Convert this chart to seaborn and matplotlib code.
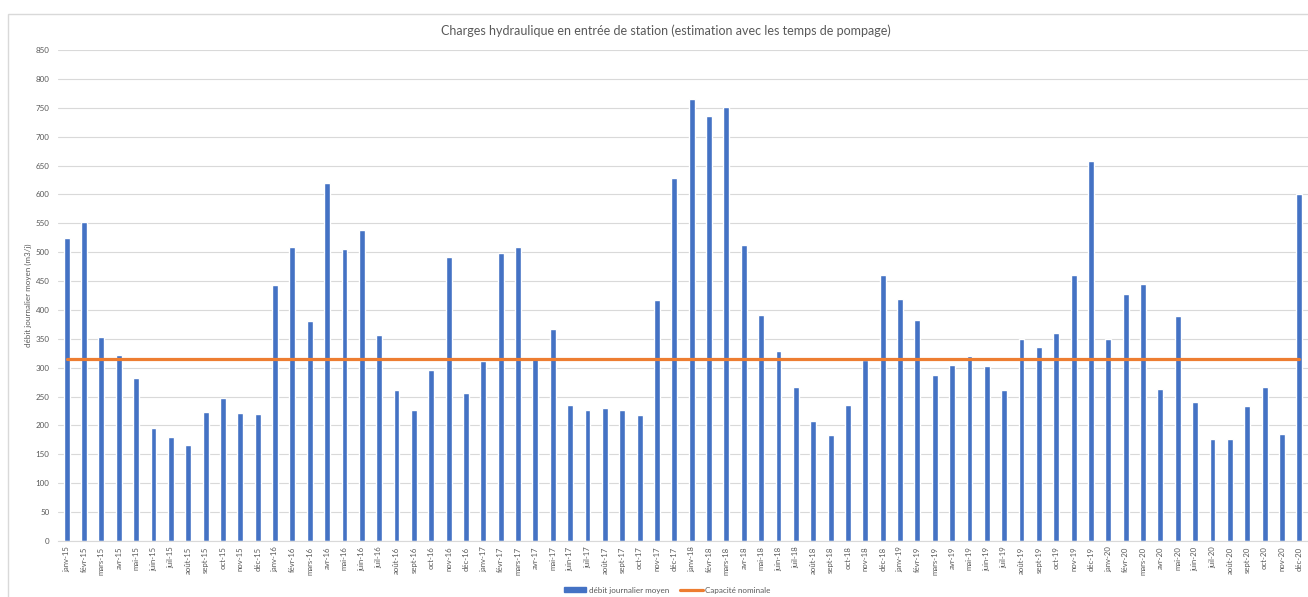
import numpy as np
import pandas as pd
import seaborn as sns
import matplotlib.pyplot as plt
from matplotlib.patches import Patch, Rectangle
from matplotlib.lines import Line2D

mois = ["janv", "févr", "mars", "avr", "mai", "juin",
        "juil", "août", "sept", "oct", "nov", "déc"]
annees = ["15", "16", "17", "18", "19", "20"]
categories = [m + "-" + a for a in annees for m in mois]

debit_2015 = [524, 553, 354, 322, 283, 196, 180, 167, 223, 247, 222, 220]
debit_2016 = [444, 509, 380, 619, 506, 538, 356, 262, 227, 296, 491, 256]
debit_2017 = [312, 499, 509, 315, 367, 236, 226, 231, 227, 218, 417, 629]
debit_2018 = [766, 736, 751, 513, 392, 329, 266, 208, 184, 236, 314, 461]
debit_2019 = [419, 383, 287, 305, 321, 303, 262, 350, 336, 360, 460, 657]
debit_2020 = [350, 427, 445, 264, 390, 241, 176, 177, 234, 267, 186, 600]
debit = debit_2015 + debit_2016 + debit_2017 + debit_2018 + debit_2019 + debit_2020

capacite_nominale = 315

df = pd.DataFrame({"mois": categories, "debit": debit})
df["pos"] = np.arange(len(df))
df["capacite"] = capacite_nominale

bleu = "#4472C4"
orange = "#ED7D31"
gris = "#595959"
grille = "#D9D9D9"

sns.set_theme(style="white")
plt.rcParams["font.family"] = ["Lato", "DejaVu Sans"]

fig = plt.figure(figsize=(13.08, 5.97), dpi=100)
ax = fig.add_axes([58 / 1308, 56 / 597, 1 - 58 / 1308, 491 / 597])

sns.barplot(data=df, x="mois", y="debit", color=bleu, width=0.34,
            saturation=1, ax=ax, zorder=2)
sns.lineplot(data=df, x="pos", y="capacite", color=orange, linewidth=2.3,
             ax=ax, zorder=3)

ax.set_ylim(0, 850)
ax.set_xlim(-0.5, len(df) - 0.5)
ax.set_yticks(np.arange(0, 851, 50))
ax.set_xticks(df["pos"])
ax.set_xticklabels(categories, rotation=90, fontsize=5.6, color=gris)
ax.tick_params(axis="y", labelsize=5.8, labelcolor=gris, length=0, pad=6)
ax.tick_params(axis="x", length=0, pad=4)
ax.set_xticks(np.arange(-0.5, len(df), 1), minor=True)
ax.tick_params(axis="x", which="minor", length=4, color=grille, width=0.8)
ax.yaxis.grid(True, color=grille, linewidth=0.8, zorder=0)
ax.set_axisbelow(True)
ax.set_xlabel("")
ax.set_ylabel("débit journalier moyen (m3/j)", fontsize=5.8, color=gris)
ax.yaxis.set_label_coords(-26 / 1250, 0.5)
for s in ["top", "right", "left"]:
    ax.spines[s].set_visible(False)
ax.spines["bottom"].set_color(grille)
ax.spines["bottom"].set_linewidth(0.8)

fig.text(666 / 1308, 1 - 31 / 597,
         "Charges hydraulique en entrée de station (estimation avec les temps de pompage)",
         ha="center", va="center", fontsize=9, color=gris)

handles = [Patch(facecolor=bleu, edgecolor=bleu),
           Line2D([0], [0], color=orange, linewidth=2.3)]
fig.legend(handles, ["débit journalier moyen", "Capacité nominale"],
           loc="center", bbox_to_anchor=(667 / 1308, 1 - 590 / 597), ncol=2,
           frameon=False, fontsize=5.8, labelcolor=gris, handlelength=2.8,
           handleheight=0.6, handletextpad=0.3, columnspacing=1.4)

fig.add_artist(Rectangle((8 / 1308, -0.05), 1.2, 1 - 14 / 597 + 0.05,
                         transform=fig.transFigure, fill=False,
                         edgecolor=grille, linewidth=1))

fig.savefig("out.png", dpi=100, facecolor="white")
